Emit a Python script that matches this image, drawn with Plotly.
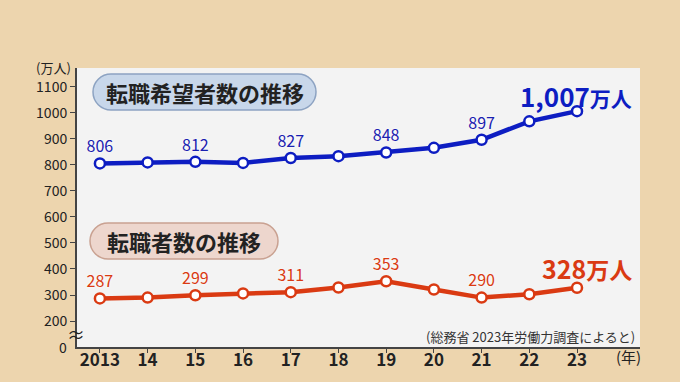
import plotly.graph_objects as go

years = [2013, 2014, 2015, 2016, 2017, 2018, 2019, 2020, 2021, 2022, 2023]
year_labels = ["2013", "14", "15", "16", "17", "18", "19", "20", "21", "22", "23"]
hope = [806, 810, 812, 808, 827, 834, 848, 866, 897, 968, 1007]
changers = [287, 290, 299, 306, 311, 329, 353, 321, 290, 303, 328]
hope_shown = ["806", "", "812", "", "827", "", "848", "", "897", "", ""]
chg_shown = ["287", "", "299", "", "311", "", "353", "", "290", "", ""]
ytick_vals = [200, 300, 400, 500, 600, 700, 800, 900, 1000, 1100]
ytick_text = [str(v) for v in ytick_vals]

BG = "#EDD5AE"
PLOT_BG = "#F3F3F3"
BLUE = "#0D1DC2"
RED = "#DA3A12"
FONT = "Noto Sans CJK JP"

W, H = 680, 382
L, R, T, B = 77, 40, 68, 35
PW, PH = W - L - R, H - T - B


def px(x):
    return (x - L) / PW


def py(y):
    return (H - B - y) / PH


def pill(x0, x1, y0, y1):
    r = (y1 - y0) / 2
    k = 0.5523 * r
    ym = (y0 + y1) / 2
    pts = [
        ("M", [(x0 + r, y0)]),
        ("L", [(x1 - r, y0)]),
        ("C", [(x1 - r + k, y0), (x1, ym - k), (x1, ym)]),
        ("C", [(x1, ym + k), (x1 - r + k, y1), (x1 - r, y1)]),
        ("L", [(x0 + r, y1)]),
        ("C", [(x0 + r - k, y1), (x0, ym + k), (x0, ym)]),
        ("C", [(x0, ym - k), (x0 + r - k, y0), (x0 + r, y0)]),
    ]
    s = ""
    for cmd, ps in pts:
        s += cmd + " " + " ".join(f"{px(a):.5f},{py(b):.5f}" for a, b in ps) + " "
    return s + "Z"


def note(x, y, text, size, color="#222", xanchor="center"):
    return dict(x=px(x), y=py(y), xref="paper", yref="paper", text=text,
                xanchor=xanchor, yanchor="middle", showarrow=False,
                font=dict(size=size, color=color, family=FONT))


fig = go.Figure()

fig.add_trace(go.Scatter(
    x=years, y=hope, mode="lines+markers+text",
    text=hope_shown, textposition="top center",
    textfont=dict(size=16, color="#1A20B0", family=FONT, shadow="0px 0px 3px white"),
    line=dict(color=BLUE, width=4.5),
    marker=dict(size=10, color="white", line=dict(color=BLUE, width=2.5)),
    cliponaxis=False, showlegend=False,
))
fig.add_trace(go.Scatter(
    x=years, y=changers, mode="lines+markers+text",
    text=chg_shown, textposition="top center",
    textfont=dict(size=16, color=RED, family=FONT, shadow="0px 0px 3px white"),
    line=dict(color=RED, width=4.5),
    marker=dict(size=10, color="white", line=dict(color=RED, width=2.5)),
    cliponaxis=False, showlegend=False,
))

shapes = [
    dict(type="path", xref="paper", yref="paper", path=pill(93, 316, 74, 110),
         fillcolor="#C8D7EA", line=dict(color="#8DA3C2", width=1.5), layer="below"),
    dict(type="path", xref="paper", yref="paper", path=pill(90, 278, 223, 259),
         fillcolor="#EDD6CD", line=dict(color="#C9A191", width=1.5), layer="below"),
]

annotations = [
    note(204.5, 92, "<b>転職希望者数の推移</b>", 22),
    note(184, 241, "<b>転職者数の推移</b>", 22),
    note(634, 96, "<b>1,007</b><span style='font-size:21px'><b>万人</b></span>", 26, BLUE, "right"),
    note(634, 268, "<b>328</b><span style='font-size:23px'><b>万人</b></span>", 25, RED, "right"),
    note(637, 336, "(総務省 2023年労働力調査によると)", 13, "#333", "right"),
    note(73, 67, "(万人)", 13, "#222", "right"),
    note(69, 347, "0", 14, "#222", "right"),
    note(76, 334, "≈", 18, "#222", "center"),
    note(628, 357, "(年)", 15, "#222", "center"),
]

fig.update_layout(
    width=W, height=H,
    margin=dict(l=L, r=R, t=T, b=B),
    paper_bgcolor=BG, plot_bgcolor=PLOT_BG,
    shapes=shapes, annotations=annotations,
    font=dict(family=FONT),
    xaxis=dict(
        range=[2012.52, 2024.32], tickvals=years, ticktext=year_labels,
        showgrid=False, zeroline=False, showline=True, linecolor="#444", linewidth=2,
        ticks="outside", ticklen=4, tickcolor="#444", automargin=False,
        ticklabelstandoff=-7,
        tickfont=dict(size=17, color="#222", family=FONT, weight="bold"),
        fixedrange=True,
    ),
    yaxis=dict(
        range=[100, 1173], tickvals=ytick_vals, ticktext=ytick_text,
        showgrid=False, zeroline=False, showline=True, linecolor="#444", linewidth=2,
        ticks="outside", ticklen=5, tickcolor="#444", automargin=False,
        tickfont=dict(size=14, color="#222", family=FONT),
        fixedrange=True,
    ),
)

fig.write_html(
    "out.html",
    config={"displayModeBar": False},
    post_script="document.body.style.margin='0';document.body.style.overflow='hidden';",
)
